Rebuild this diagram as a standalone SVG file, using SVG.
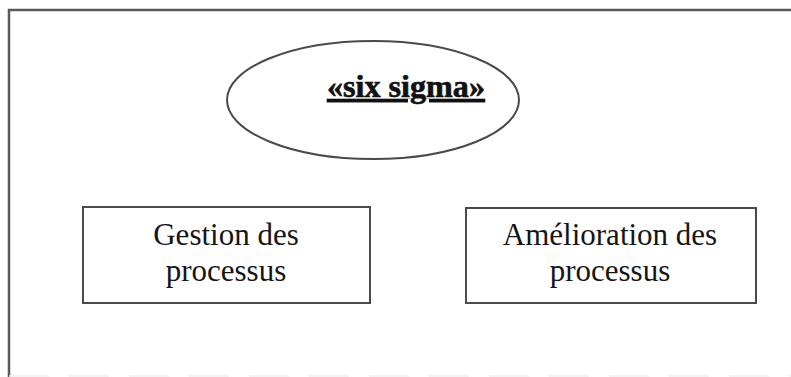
<svg xmlns="http://www.w3.org/2000/svg" width="791" height="377" viewBox="0 0 791 377">
  <style>
    .frame { fill: none; stroke: #5a5a5a; stroke-width: 2.5; }
    .shape { fill: #ffffff; stroke: #4a4a4a; stroke-width: 2; }
    .label { font-family: "Liberation Serif", "Times New Roman", serif; font-size: 31px; fill: #151515; text-anchor: middle; }
    .title { font-family: "Liberation Serif", "Times New Roman", serif; font-size: 31px; font-weight: bold; fill: #111111; stroke: #111111; stroke-width: 0.6; text-decoration: underline; }
  </style>
  <rect width="791" height="377" fill="#ffffff"/>

  <!-- outer frame: top and left edges, faint bottom edge -->
  <g id="frame">
    <path class="frame" d="M9 377 V10 H791"/>
    <line x1="9" y1="376" x2="791" y2="376" stroke="#efefef" stroke-width="1.5" stroke-dasharray="40 20"/>
  </g>

  <g id="connectors"></g>

  <g id="six-sigma">
    <ellipse class="shape" cx="373" cy="100" rx="146" ry="59"/>
    <text class="title" x="327" y="97" textLength="158" lengthAdjust="spacingAndGlyphs">«six sigma»</text>
  </g>

  <g id="gestion">
    <rect class="shape" x="83" y="207" width="287" height="96"/>
    <text class="label" x="226" y="245">Gestion des</text>
    <text class="label" x="226" y="281">processus</text>
  </g>

  <g id="amelioration">
    <rect class="shape" x="466" y="208" width="290" height="95"/>
    <text class="label" x="610" y="245">Amélioration des</text>
    <text class="label" x="610" y="281">processus</text>
  </g>
</svg>
